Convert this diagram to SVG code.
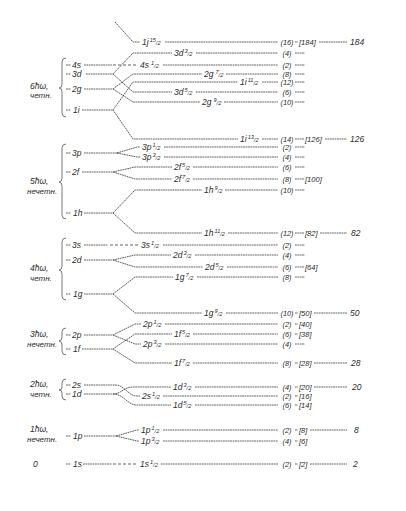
<svg xmlns="http://www.w3.org/2000/svg" width="406" height="511" viewBox="0 0 406 511">
<style>
.t{font-family:"Liberation Sans",Arial,sans-serif;font-style:italic;font-size:8.5px;fill:#2b2b2b}
.g{font-size:8px}
.f{font-size:5.6px}
.c{text-anchor:middle;font-size:7.4px}
.b{font-size:7.6px}
.ln line,.ln polyline,.ln path{stroke:#3a3a3a;stroke-width:0.8;fill:none;stroke-dasharray:1.8 0.6}
.ln .dl{stroke-dasharray:3 2}
.br{stroke:#555;stroke-width:0.8;fill:none}
</style>
<rect width="406" height="511" fill="#fff"/>

<g id="connectors" class="ln">
  <!-- 6ħω -->
  <polyline points="115,22 133,42 140,42"/>
  <line x1="165" y1="42" x2="278" y2="42"/>
  <line x1="84" y1="65" x2="112" y2="65"/>
  <line class="dl" x1="113" y1="65" x2="138" y2="65"/>
  <line x1="163" y1="65" x2="278" y2="65"/>
  <polyline points="86,74 113,74 133,53 172,53"/>
  <polyline points="113,74 133,92 172,92"/>
  <line x1="196" y1="53" x2="278" y2="53"/>
  <line x1="196" y1="92" x2="278" y2="92"/>
  <polyline points="84,89 113,89 133,74 202,74"/>
  <polyline points="113,89 133,102 200,102"/>
  <line x1="226" y1="74" x2="278" y2="74"/>
  <line x1="224" y1="102" x2="278" y2="102"/>
  <polyline points="82,110 113,110 133,82 238,82"/>
  <polyline points="113,110 133,139 238,139"/>
  <line x1="262" y1="82" x2="278" y2="82"/>
  <line x1="262" y1="139" x2="278" y2="139"/>
  <!-- 5ħω -->
  <line x1="84" y1="153" x2="117" y2="153"/>
  <polyline points="117,153 137,147 140,147"/>
  <polyline points="117,153 137,157 140,157"/>
  <line x1="164" y1="147" x2="278" y2="147"/>
  <line x1="164" y1="157" x2="278" y2="157"/>
  <polyline points="82,172 113,172 135,167 172,167"/>
  <polyline points="113,172 135,179 172,179"/>
  <line x1="193" y1="167" x2="278" y2="167"/>
  <line x1="193" y1="179" x2="278" y2="179"/>
  <polyline points="84,213 113,213 135,190 202,190"/>
  <polyline points="113,213 135,233 202,233"/>
  <line x1="225" y1="190" x2="278" y2="190"/>
  <line x1="228" y1="233" x2="278" y2="233"/>
  <!-- 4ħω -->
  <line x1="84" y1="245" x2="108" y2="245"/>
  <line class="dl" x1="110" y1="245" x2="138" y2="245"/>
  <line x1="163" y1="245" x2="278" y2="245"/>
  <polyline points="84,260 113,260 135,255 171,255"/>
  <polyline points="113,260 135,267 203,267"/>
  <line x1="195" y1="255" x2="278" y2="255"/>
  <line x1="227" y1="267" x2="278" y2="267"/>
  <polyline points="84,294 113,294 135,277 173,277"/>
  <polyline points="113,294 135,313 202,313"/>
  <line x1="197" y1="277" x2="278" y2="277"/>
  <line x1="226" y1="313" x2="278" y2="313"/>
  <!-- 3ħω -->
  <polyline points="84,335 113,335 135,324 141,324"/>
  <polyline points="113,335 135,344 141,344"/>
  <line x1="165" y1="324" x2="278" y2="324"/>
  <line x1="165" y1="344" x2="278" y2="344"/>
  <polyline points="82,349 113,349 135,334 172,334"/>
  <polyline points="113,349 135,363 172,363"/>
  <line x1="193" y1="334" x2="278" y2="334"/>
  <line x1="193" y1="363" x2="278" y2="363"/>
  <!-- 2ħω -->
  <path d="M84,385 L115,385 C125,385 128,396 137,396 L140,396"/>
  <path d="M84,394 L113,394 C121,394 124,387 133,387 L171,387"/>
  <path d="M113,394 C124,394 127,405 137,405 L171,405"/>
  <line x1="163" y1="396" x2="278" y2="396"/>
  <line x1="195" y1="387" x2="278" y2="387"/>
  <line x1="195" y1="405" x2="278" y2="405"/>
  <!-- 1ħω -->
  <line x1="84" y1="436" x2="116" y2="436"/>
  <polyline points="116,436 137,430 139,430"/>
  <polyline points="116,436 137,441 139,441"/>
  <line x1="163" y1="430" x2="278" y2="430"/>
  <line x1="163" y1="441" x2="278" y2="441"/>
  <!-- 0 -->
  <line x1="83" y1="464" x2="112" y2="464"/>
  <line class="dl" x1="113" y1="464" x2="138" y2="464"/>
  <line x1="161" y1="464" x2="278" y2="464"/>
  <!-- right side dashes -->
  <line x1="295" y1="42" x2="298" y2="42"/><line x1="319" y1="42" x2="347" y2="42"/>
  <line x1="295" y1="53" x2="305" y2="53"/>
  <line x1="295" y1="65" x2="305" y2="65"/>
  <line x1="295" y1="74" x2="305" y2="74"/>
  <line x1="295" y1="82" x2="305" y2="82"/>
  <line x1="295" y1="92" x2="305" y2="92"/>
  <line x1="295" y1="102" x2="305" y2="102"/>
  <line x1="295" y1="139" x2="304" y2="139"/><line x1="325" y1="139" x2="347" y2="139"/>
  <line x1="295" y1="147" x2="305" y2="147"/>
  <line x1="295" y1="157" x2="305" y2="157"/>
  <line x1="295" y1="167" x2="305" y2="167"/>
  <line x1="295" y1="179" x2="304" y2="179"/>
  <line x1="295" y1="190" x2="305" y2="190"/>
  <line x1="295" y1="233" x2="304" y2="233"/><line x1="320" y1="233" x2="347" y2="233"/>
  <line x1="295" y1="245" x2="305" y2="245"/>
  <line x1="295" y1="255" x2="305" y2="255"/>
  <line x1="295" y1="267" x2="304" y2="267"/>
  <line x1="295" y1="277" x2="305" y2="277"/>
  <line x1="295" y1="313" x2="298" y2="313"/><line x1="314" y1="313" x2="347" y2="313"/>
  <line x1="295" y1="324" x2="298" y2="324"/>
  <line x1="295" y1="334" x2="298" y2="334"/>
  <line x1="295" y1="344" x2="305" y2="344"/>
  <line x1="295" y1="363" x2="298" y2="363"/><line x1="314" y1="363" x2="347" y2="363"/>
  <line x1="295" y1="387" x2="298" y2="387"/><line x1="314" y1="387" x2="347" y2="387"/>
  <line x1="295" y1="396" x2="298" y2="396"/>
  <line x1="295" y1="405" x2="298" y2="405"/>
  <line x1="295" y1="430" x2="298" y2="430"/><line x1="310" y1="430" x2="347" y2="430"/>
  <line x1="295" y1="441" x2="298" y2="441"/>
  <line x1="295" y1="464" x2="298" y2="464"/><line x1="310" y1="464" x2="347" y2="464"/>
  <!-- left dashes -->
  <line x1="66" y1="65" x2="71" y2="65"/>
  <line x1="66" y1="74" x2="71" y2="74"/>
  <line x1="66" y1="89" x2="71" y2="89"/>
  <line x1="66" y1="110" x2="71" y2="110"/>
  <line x1="66" y1="153" x2="71" y2="153"/>
  <line x1="66" y1="172" x2="71" y2="172"/>
  <line x1="66" y1="213" x2="71" y2="213"/>
  <line x1="66" y1="245" x2="71" y2="245"/>
  <line x1="66" y1="260" x2="71" y2="260"/>
  <line x1="66" y1="294" x2="71" y2="294"/>
  <line x1="66" y1="335" x2="71" y2="335"/>
  <line x1="66" y1="349" x2="71" y2="349"/>
  <line x1="66" y1="385" x2="71" y2="385"/>
  <line x1="66" y1="394" x2="71" y2="394"/>
  <line x1="66" y1="436" x2="71" y2="436"/>
  <line x1="66" y1="464" x2="71" y2="464"/>
</g>

<!-- shell groups -->
<g id="shell-6" class="t">
  <path class="br" d="M66,58 Q62,58 62,62 L62,84 Q62,88 59,88 Q62,88 62,92 L62,113 Q62,117 66,117"/>
  <text x="30" y="89">6ħω,</text>
  <text x="30" y="98" class="g">четн.</text>
</g>
<g id="shell-5" class="t">
  <path class="br" d="M66,144 Q62,144 62,148 L62,178 Q62,182 59,182 Q62,182 62,186 L62,215 Q62,219 66,219"/>
  <text x="30" y="184">5ħω,</text>
  <text x="27" y="194" class="g">нечетн.</text>
</g>
<g id="shell-4" class="t">
  <path class="br" d="M66,238 Q62,238 62,242 L62,266 Q62,270 59,270 Q62,270 62,274 L62,296 Q62,300 66,300"/>
  <text x="30" y="271">4ħω,</text>
  <text x="30" y="281" class="g">четн.</text>
</g>
<g id="shell-3" class="t">
  <path class="br" d="M66,328 Q62,328 62,332 L62,337 Q62,341 59,341 Q62,341 62,345 L62,351 Q62,355 66,355"/>
  <text x="30" y="337">3ħω,</text>
  <text x="27" y="347" class="g">нечетн.</text>
</g>
<g id="shell-2" class="t">
  <path class="br" d="M66,379 Q62,379 62,383 L62,387 Q62,390 59,390 Q62,390 62,393 L62,396 Q62,400 66,400"/>
  <text x="30" y="387">2ħω,</text>
  <text x="30" y="397" class="g">четн.</text>
</g>
<g id="shell-1" class="t">
  <text x="30" y="432">1ħω,</text>
  <text x="27" y="442" class="g">нечетн.</text>
</g>
<g id="shell-0" class="t">
  <text x="33" y="467">0</text>
</g>

<!-- oscillator levels (left) -->
<g id="lv-4s" class="t"><text x="72" y="68">4s</text></g>
<g id="lv-3d" class="t"><text x="72" y="77">3d</text></g>
<g id="lv-2g" class="t"><text x="72" y="92">2g</text></g>
<g id="lv-1i" class="t"><text x="73" y="113">1i</text></g>
<g id="lv-3p" class="t"><text x="72" y="156">3p</text></g>
<g id="lv-2f" class="t"><text x="72" y="175">2f</text></g>
<g id="lv-1h" class="t"><text x="73" y="216">1h</text></g>
<g id="lv-3s" class="t"><text x="72" y="248">3s</text></g>
<g id="lv-2d" class="t"><text x="72" y="263">2d</text></g>
<g id="lv-1g" class="t"><text x="73" y="297">1g</text></g>
<g id="lv-2p" class="t"><text x="72" y="338">2p</text></g>
<g id="lv-1f" class="t"><text x="73" y="352">1f</text></g>
<g id="lv-2s" class="t"><text x="72" y="388">2s</text></g>
<g id="lv-1d" class="t"><text x="72" y="397">1d</text></g>
<g id="lv-1p" class="t"><text x="73" y="439">1p</text></g>
<g id="lv-1s" class="t"><text x="73" y="467">1s</text></g>

<!-- split levels (right) -->
<g id="r-1j15" class="t"><text x="142" y="45">1j<tspan class="f" dx="1" dy="-3">15</tspan><tspan class="f" dy="3">/2</tspan></text><text x="287" y="45" class="c">(16)</text><text x="299" y="45" class="b">[184]</text><text x="350" y="45">184</text></g>
<g id="r-3d3" class="t"><text x="174" y="56">3d<tspan class="f" dx="1" dy="-3">3</tspan><tspan class="f" dy="3">/2</tspan></text><text x="287" y="55.5" class="c">(4)</text></g>
<g id="r-4s1" class="t"><text x="140" y="68">4s<tspan class="f" dx="2" dy="-3">1</tspan><tspan class="f" dy="3">/2</tspan></text><text x="287" y="67.5" class="c">(2)</text></g>
<g id="r-2g7" class="t"><text x="204" y="77">2g<tspan class="f" dx="2" dy="-3">7</tspan><tspan class="f" dy="3">/2</tspan></text><text x="287" y="76.5" class="c">(8)</text></g>
<g id="r-1i11" class="t"><text x="240" y="85">1i<tspan class="f" dx="1" dy="-3">11</tspan><tspan class="f" dy="3">/2</tspan></text><text x="287" y="84.5" class="c">(12)</text></g>
<g id="r-3d5" class="t"><text x="174" y="95">3d<tspan class="f" dx="1" dy="-3">5</tspan><tspan class="f" dy="3">/2</tspan></text><text x="287" y="94.5" class="c">(6)</text></g>
<g id="r-2g9" class="t"><text x="202" y="105">2g<tspan class="f" dx="2" dy="-3">9</tspan><tspan class="f" dy="3">/2</tspan></text><text x="287" y="104.5" class="c">(10)</text></g>

<g id="r-1i13" class="t"><text x="240" y="142">1i<tspan class="f" dx="1" dy="-3">13</tspan><tspan class="f" dy="3">/2</tspan></text><text x="287" y="141.5" class="c">(14)</text><text x="305" y="141.5" class="b">[126]</text><text x="350" y="142">126</text></g>
<g id="r-3p1" class="t"><text x="142" y="150">3p<tspan class="f" dx="1" dy="-3">1</tspan><tspan class="f" dy="3">/2</tspan></text><text x="287" y="149.5" class="c">(2)</text></g>
<g id="r-3p3" class="t"><text x="142" y="160">3p<tspan class="f" dx="1" dy="-3">3</tspan><tspan class="f" dy="3">/2</tspan></text><text x="287" y="159.5" class="c">(4)</text></g>
<g id="r-2f5" class="t"><text x="174" y="170">2f<tspan class="f" dx="1" dy="-3">5</tspan><tspan class="f" dy="3">/2</tspan></text><text x="287" y="169.5" class="c">(6)</text></g>
<g id="r-2f7" class="t"><text x="174" y="182">2f<tspan class="f" dx="1" dy="-3">7</tspan><tspan class="f" dy="3">/2</tspan></text><text x="287" y="181.5" class="c">(8)</text><text x="305" y="181.5" class="b">[100]</text></g>
<g id="r-1h9" class="t"><text x="204" y="193">1h<tspan class="f" dx="1" dy="-3">9</tspan><tspan class="f" dy="3">/2</tspan></text><text x="287" y="192.5" class="c">(10)</text></g>
<g id="r-1h11" class="t"><text x="204" y="236">1h<tspan class="f" dx="1" dy="-3">11</tspan><tspan class="f" dy="3">/2</tspan></text><text x="287" y="235.5" class="c">(12)</text><text x="305" y="235.5" class="b">[82]</text><text x="351" y="236">82</text></g>

<g id="r-3s1" class="t"><text x="141" y="248">3s<tspan class="f" dx="1" dy="-3">1</tspan><tspan class="f" dy="3">/2</tspan></text><text x="287" y="247.5" class="c">(2)</text></g>
<g id="r-2d3" class="t"><text x="173" y="258">2d<tspan class="f" dx="1" dy="-3">3</tspan><tspan class="f" dy="3">/2</tspan></text><text x="287" y="257.5" class="c">(4)</text></g>
<g id="r-2d5" class="t"><text x="205" y="270">2d<tspan class="f" dx="1" dy="-3">5</tspan><tspan class="f" dy="3">/2</tspan></text><text x="287" y="269.5" class="c">(6)</text><text x="305" y="269.5" class="b">[64]</text></g>
<g id="r-1g7" class="t"><text x="175" y="280">1g<tspan class="f" dx="1" dy="-3">7</tspan><tspan class="f" dy="3">/2</tspan></text><text x="287" y="279.5" class="c">(8)</text></g>
<g id="r-1g9" class="t"><text x="204" y="316">1g<tspan class="f" dx="1" dy="-3">9</tspan><tspan class="f" dy="3">/2</tspan></text><text x="287" y="315.5" class="c">(10)</text><text x="299" y="315.5" class="b">[50]</text><text x="350" y="316">50</text></g>

<g id="r-2p1" class="t"><text x="143" y="327">2p<tspan class="f" dx="1" dy="-3">1</tspan><tspan class="f" dy="3">/2</tspan></text><text x="287" y="326.5" class="c">(2)</text><text x="299" y="326.5" class="b">[40]</text></g>
<g id="r-1f5" class="t"><text x="174" y="337">1f<tspan class="f" dx="1" dy="-3">5</tspan><tspan class="f" dy="3">/2</tspan></text><text x="287" y="336.5" class="c">(6)</text><text x="299" y="336.5" class="b">[38]</text></g>
<g id="r-2p3" class="t"><text x="143" y="347">2p<tspan class="f" dx="1" dy="-3">3</tspan><tspan class="f" dy="3">/2</tspan></text><text x="287" y="346.5" class="c">(4)</text></g>
<g id="r-1f7" class="t"><text x="174" y="366">1f<tspan class="f" dx="1" dy="-3">7</tspan><tspan class="f" dy="3">/2</tspan></text><text x="287" y="365.5" class="c">(8)</text><text x="299" y="365.5" class="b">[28]</text><text x="351" y="366">28</text></g>

<g id="r-1d3" class="t"><text x="173" y="390">1d<tspan class="f" dx="1" dy="-3">3</tspan><tspan class="f" dy="3">/2</tspan></text><text x="287" y="389.5" class="c">(4)</text><text x="299" y="389.5" class="b">[20]</text><text x="352" y="390">20</text></g>
<g id="r-2s1" class="t"><text x="142" y="399">2s<tspan class="f" dx="1" dy="-3">1</tspan><tspan class="f" dy="3">/2</tspan></text><text x="287" y="398.5" class="c">(2)</text><text x="299" y="398.5" class="b">[16]</text></g>
<g id="r-1d5" class="t"><text x="173" y="408">1d<tspan class="f" dx="1" dy="-3">5</tspan><tspan class="f" dy="3">/2</tspan></text><text x="287" y="407.5" class="c">(6)</text><text x="299" y="407.5" class="b">[14]</text></g>

<g id="r-1p1" class="t"><text x="141" y="433">1p<tspan class="f" dx="1" dy="-3">1</tspan><tspan class="f" dy="3">/2</tspan></text><text x="287" y="432.5" class="c">(2)</text><text x="299" y="432.5" class="b">[8]</text><text x="354" y="433">8</text></g>
<g id="r-1p3" class="t"><text x="141" y="444">1p<tspan class="f" dx="1" dy="-3">3</tspan><tspan class="f" dy="3">/2</tspan></text><text x="287" y="443.5" class="c">(4)</text><text x="299" y="443.5" class="b">[6]</text></g>

<g id="r-1s1" class="t"><text x="140" y="467">1s<tspan class="f" dx="1" dy="-3">1</tspan><tspan class="f" dy="3">/2</tspan></text><text x="287" y="466.5" class="c">(2)</text><text x="299" y="466.5" class="b">[2]</text><text x="353" y="467">2</text></g>
</svg>
